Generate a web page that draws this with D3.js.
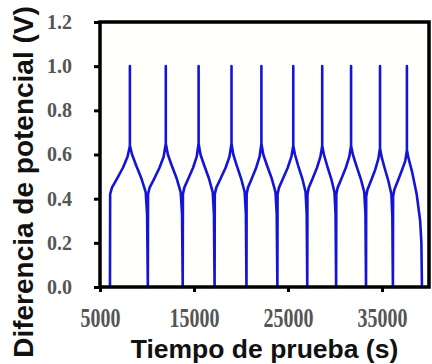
<!DOCTYPE html>
<html>
<head>
<meta charset="utf-8">
<script src="https://cdn.jsdelivr.net/npm/d3@7"></script>
<style>
  body { margin: 0; background: #fff; }
</style>
</head>
<body>
<script>
const width = 432, height = 364;

// one row per charge/discharge cycle
const timeS = [
    [6060, 6080, 6270, 6800, 7440, 7930, 8180, 8180, 8180, 8410, 8850, 9420, 9860, 10010, 10090],
    [10090, 10110, 10280, 10760, 11330, 11770, 12000, 12000, 12000, 12220, 12630, 13170, 13580, 13730, 13800],
    [13800, 13820, 13970, 14390, 14900, 15290, 15490, 15490, 15490, 15690, 16090, 16600, 16990, 17120, 17190],
    [17190, 17210, 17370, 17820, 18360, 18770, 18990, 18990, 18990, 19180, 19550, 20020, 20390, 20520, 20580],
    [20580, 20600, 20740, 21140, 21610, 21980, 22170, 22170, 22170, 22370, 22770, 23280, 23670, 23800, 23870],
    [23870, 23890, 24040, 24460, 24970, 25360, 25560, 25560, 25560, 25740, 26080, 26530, 26870, 26990, 27050],
    [27050, 27070, 27210, 27610, 28080, 28450, 28640, 28640, 28640, 28820, 29160, 29600, 29940, 30060, 30120],
    [30120, 30140, 30280, 30680, 31150, 31520, 31710, 31710, 31710, 31900, 32270, 32740, 33110, 33240, 33300],
    [33300, 33320, 33450, 33820, 34270, 34610, 34790, 34790, 34790, 34950, 35270, 35680, 36000, 36100, 36160],
    [36160, 36180, 36310, 36680, 37130, 37470, 37650, 37650, 37650, 37840, 38210, 38690, 39060, 39190, 39250]
];

const voltageV = [
    [0, 0.42, 0.45, 0.49, 0.54, 0.59, 0.64, 1.00, 0.64, 0.60, 0.55, 0.49, 0.43, 0.33, 0],
    [0, 0.42, 0.45, 0.49, 0.54, 0.59, 0.65, 1.00, 0.65, 0.60, 0.55, 0.49, 0.43, 0.33, 0],
    [0, 0.42, 0.45, 0.49, 0.54, 0.59, 0.65, 1.00, 0.65, 0.60, 0.55, 0.49, 0.43, 0.33, 0],
    [0, 0.42, 0.45, 0.49, 0.54, 0.59, 0.65, 1.00, 0.65, 0.60, 0.55, 0.49, 0.43, 0.33, 0],
    [0, 0.42, 0.45, 0.49, 0.54, 0.59, 0.65, 1.00, 0.65, 0.60, 0.55, 0.49, 0.43, 0.33, 0],
    [0, 0.42, 0.45, 0.49, 0.54, 0.59, 0.64, 1.00, 0.64, 0.60, 0.55, 0.49, 0.43, 0.33, 0],
    [0, 0.42, 0.45, 0.49, 0.54, 0.59, 0.64, 1.00, 0.64, 0.60, 0.55, 0.49, 0.43, 0.33, 0],
    [0, 0.42, 0.45, 0.49, 0.54, 0.59, 0.64, 1.00, 0.64, 0.60, 0.55, 0.49, 0.43, 0.33, 0],
    [0, 0.41, 0.44, 0.48, 0.53, 0.58, 0.63, 1.00, 0.63, 0.59, 0.54, 0.48, 0.42, 0.32, 0],
    [0, 0.41, 0.44, 0.48, 0.53, 0.57, 0.62, 1.00, 0.62, 0.58, 0.52, 0.42, 0.30, 0.20, 0]
];

const xTicks = [5000, 15000, 25000, 35000];
const yTicks = [0, 0.2, 0.4, 0.6, 0.8, 1.0, 1.2];

const plot = { left: 100, right: 429, top: 22, bottom: 287 };

const svg = d3.select("body")
    .append("svg")
    .attr("width", width)
    .attr("height", height);

const x = d3.scaleLinear().domain([5000, 40000]).range([plot.left, plot.right]);
const y = d3.scaleLinear().domain([0, 1.2]).range([plot.bottom, plot.top]);

// plot background
svg.append("rect")
    .attr("x", plot.left)
    .attr("y", plot.top)
    .attr("width", plot.right - plot.left)
    .attr("height", plot.bottom - plot.top)
    .attr("fill", "#fffffb");

// flatten the cycles into one trace
const points = [];
timeS.forEach((row, i) => row.forEach((t, j) => points.push([t, voltageV[i][j]])));

const line = d3.line()
    .x(d => x(d[0]))
    .y(d => y(d[1]));

svg.append("path")
    .datum(points)
    .attr("fill", "none")
    .attr("stroke", "#1414d8")
    .attr("stroke-width", 2.6)
    .attr("stroke-linejoin", "round")
    .attr("d", line);

// y axis
const yAxis = svg.append("g")
    .attr("transform", `translate(${plot.left},0)`)
    .call(d3.axisLeft(y).tickValues(yTicks).tickFormat(d3.format(".1f")).tickSize(6).tickPadding(22));

// x axis
const xAxis = svg.append("g")
    .attr("transform", `translate(0,${plot.bottom})`)
    .call(d3.axisBottom(x).tickValues(xTicks).tickFormat(d3.format("d")).tickSize(5));

[yAxis, xAxis].forEach(g => {
    g.select(".domain").remove();
    g.selectAll(".tick line").attr("stroke", "#000").attr("stroke-width", 3);
    g.selectAll(".tick text")
        .attr("font-family", "'Liberation Serif', 'Times New Roman', serif")
        .attr("font-size", 20)
        .attr("font-weight", "bold")
        .attr("fill", "#555");
});

// x tick labels look stretched vertically in the original
xAxis.selectAll(".tick text")
    .attr("y", 30)
    .attr("dy", 0)
    .attr("transform", "scale(1,1.33)");

// frame
svg.append("rect")
    .attr("x", plot.left)
    .attr("y", plot.top)
    .attr("width", plot.right - plot.left)
    .attr("height", plot.bottom - plot.top)
    .attr("fill", "none")
    .attr("stroke", "#000")
    .attr("stroke-width", 3.5);

// axis titles
svg.append("text")
    .attr("x", (plot.left + plot.right) / 2)
    .attr("y", 358)
    .attr("text-anchor", "middle")
    .attr("font-family", "'Liberation Sans', Arial, sans-serif")
    .attr("font-weight", "bold")
    .attr("font-size", 26.5)
    .attr("fill", "#111")
    .text("Tiempo de prueba (s)");

svg.append("text")
    .attr("transform", "translate(33,182) rotate(-90)")
    .attr("text-anchor", "middle")
    .attr("font-family", "'Liberation Sans', Arial, sans-serif")
    .attr("font-weight", "bold")
    .attr("font-size", 28)
    .attr("fill", "#111")
    .text("Diferencia de potencial (V)");
</script>
</body>
</html>
